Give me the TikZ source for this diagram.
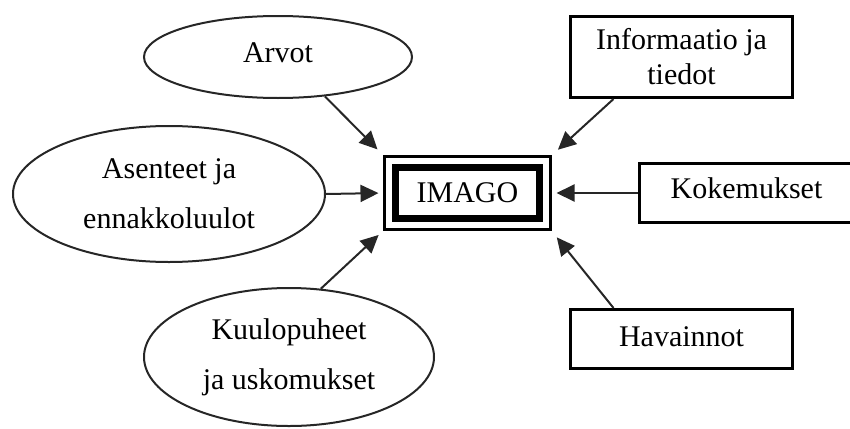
\documentclass[tikz,border=0pt]{standalone}
\usepackage{fontspec}
\setmainfont{Liberation Serif}
\usepackage{tikz}
\usetikzlibrary{positioning}
\usetikzlibrary{shapes.geometric}
\usetikzlibrary{arrows.meta}

\tikzset{
  oval/.style={ellipse, draw=black!85, line width=1pt, align=center, inner sep=0pt},
  box/.style={rectangle, draw, line width=1.5pt, align=center, inner sep=0pt},
  arrow/.style={-{Triangle[length=9pt,width=8.5pt]}, line width=1pt, draw=black!85}
}

\begin{document}
\begin{tikzpicture}[x=0.5pt,y=-0.5pt,font=\fontsize{15}{25}\selectfont]
  \useasboundingbox (0,0) rectangle (850,428);

  \node[oval, minimum width=134pt, minimum height=41pt] (arvot) at (278,57) {\raisebox{4.5pt}{Arvot}};
  \node[oval, minimum width=156pt, minimum height=68pt] (asenteet) at (169,194) {Asenteet ja\\ennakkoluulot};
  \node[oval, minimum width=145pt, minimum height=69pt] (kuulo) at (289,357) {Kuulopuheet\\ja uskomukset};

  \node[box, minimum width=111pt, minimum height=40.5pt, font=\fontsize{15}{17.5}\selectfont] (info) at (681.5,57) {Informaatio ja\\tiedot};
  \node[box, minimum width=107pt, minimum height=29.5pt] (koke) at (746.5,193) {\raisebox{4.5pt}{Kokemukset}};
  \node[box, minimum width=111pt, minimum height=29.5pt] (hav) at (681.5,339) {\raisebox{2.75pt}{Havainnot}};

  \node[box, minimum width=83pt, minimum height=36.5pt, outer sep=0pt] (imago) at (467.5,193) {};
  \node[box, line width=3.5pt, minimum width=72pt, minimum height=25.5pt] (imagotext) at (imago) {IMAGO};

  \draw[arrow, shorten >=5pt] (arvot.-40) -- (imago.north west);
  \draw[arrow, shorten >=3pt] (asenteet.east) -- (imago.west);
  \draw[arrow, shorten >=4pt] (kuulo.65) -- (imago.south west);
  \draw[arrow, shorten >=5pt] ([xshift=-34pt]info.south) -- (imago.north east);
  \draw[arrow, shorten >=3pt] (koke.west) -- (imago.east);
  \draw[arrow, shorten >=5pt] ([xshift=-34pt]hav.north) -- (imago.south east);
\end{tikzpicture}
\end{document}
